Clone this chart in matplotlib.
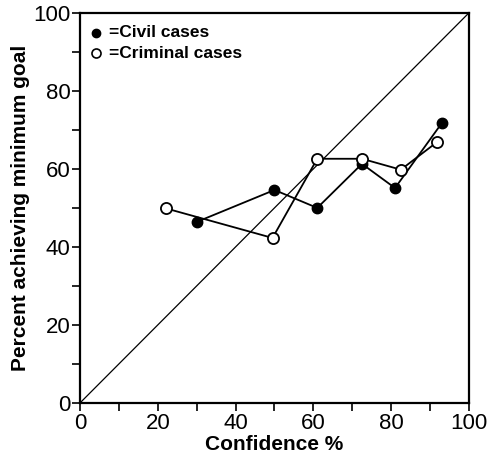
import matplotlib
matplotlib.use("Agg")
import matplotlib.pyplot as plt
from matplotlib.ticker import MultipleLocator

plt.rcParams['font.family'] = ['Liberation Sans', 'DejaVu Sans']

civil_x = [30, 50, 61, 72.5, 81, 93]
civil_y = [46.4, 54.6, 50.0, 61.3, 55.1, 71.7]
criminal_x = [22, 49.5, 61, 72.5, 82.5, 91.7]
criminal_y = [49.9, 42.3, 62.6, 62.6, 59.8, 66.8]

fig = plt.figure(figsize=(4.91, 4.61), dpi=100)
ax = fig.add_axes([0.163, 0.126, 0.792, 0.846])

ax.plot([0, 100], [0, 100], color='black', lw=0.9, zorder=1)
ax.plot(civil_x, civil_y, color='black', lw=1.3, marker='o', ms=7.5,
        mfc='black', mec='black', zorder=3)
ax.plot(criminal_x, criminal_y, color='black', lw=1.3, marker='o', ms=8,
        mfc='white', mec='black', mew=1.3, zorder=3)

ax.set_xlim(0, 100)
ax.set_ylim(0, 100)
ax.xaxis.set_major_locator(MultipleLocator(20))
ax.xaxis.set_minor_locator(MultipleLocator(10))
ax.yaxis.set_major_locator(MultipleLocator(20))
ax.yaxis.set_minor_locator(MultipleLocator(10))
ax.tick_params(which='both', direction='out', length=6, width=1.2, labelsize=16, pad=1)
for s in ax.spines.values():
    s.set_linewidth(1.6)

ax.set_xlabel('Confidence %', fontsize=15, fontweight='bold', labelpad=1)
ax.set_ylabel('Percent achieving minimum goal', fontsize=15, fontweight='bold', labelpad=2)

ax.plot([0.041], [0.949], 'o', color='black', ms=6, transform=ax.transAxes, clip_on=False)
ax.plot([0.041], [0.897], 'o', mfc='white', mec='black', mew=1.2, ms=6.5,
        transform=ax.transAxes, clip_on=False)
ax.text(0.075, 0.949, '=Civil cases', transform=ax.transAxes, fontsize=12.5,
        fontweight='bold', va='center', ha='left')
ax.text(0.075, 0.897, '=Criminal cases', transform=ax.transAxes, fontsize=12.5,
        fontweight='bold', va='center', ha='left')

fig.savefig('out.png', dpi=100)
